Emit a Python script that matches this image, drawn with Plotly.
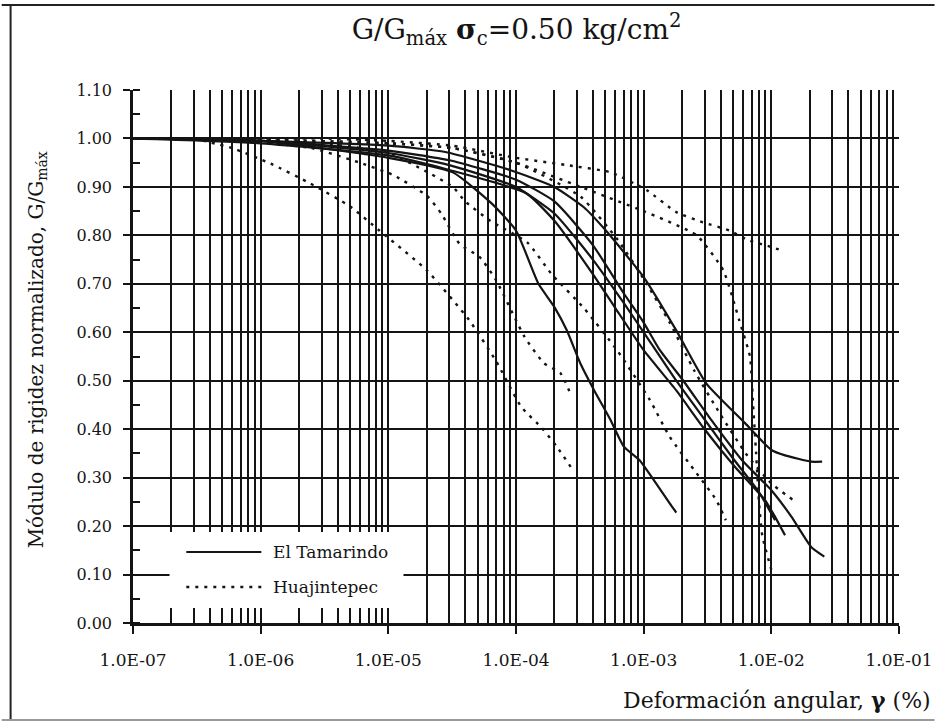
import plotly.graph_objects as go

# ---------------- data (strain in %, G/Gmax) ----------------
# El Tamarindo (solid)
t1_x = [1.0e-7, 1.0e-6, 1.0e-5, 3.2e-5, 6.5e-5, 1.0e-4, 1.5e-4, 2.0e-4, 2.5e-4, 3.2e-4, 4.1e-4, 5.5e-4, 7.0e-4, 9.3e-4, 1.15e-3, 1.6e-3, 1.8e-3]
t1_y = [1.00, 0.995, 0.96, 0.93, 0.865, 0.81, 0.70, 0.652, 0.604, 0.535, 0.48, 0.419, 0.364, 0.336, 0.302, 0.247, 0.228]

t2_x = [1.0e-7, 1.0e-6, 1.0e-5, 2.8e-5, 9.2e-5, 2.0e-4, 3.4e-4, 4.9e-4, 7.9e-4, 1.0e-3, 1.8e-3, 3.1e-3, 6.25e-3, 1.0e-2, 1.28e-2, 2.05e-2, 2.5e-2]
t2_y = [1.00, 0.995, 0.985, 0.972, 0.934, 0.90, 0.858, 0.814, 0.748, 0.714, 0.604, 0.494, 0.412, 0.357, 0.346, 0.333, 0.333]

t3_x = [1.0e-7, 1.0e-6, 1.0e-5, 3.0e-5, 1.0e-4, 2.0e-4, 4.0e-4, 7.0e-4, 1.0e-3, 1.34e-3, 2.03e-3, 3.26e-3, 5.9e-3, 1.0e-2, 1.44e-2, 2.05e-2, 2.6e-2]
t3_y = [1.00, 0.995, 0.975, 0.955, 0.915, 0.87, 0.78, 0.68, 0.62, 0.563, 0.501, 0.425, 0.336, 0.274, 0.219, 0.157, 0.137]

t4_x = [1.0e-7, 1.0e-6, 1.0e-5, 3.0e-5, 1.2e-4, 2.0e-4, 4.0e-4, 6.0e-4, 1.0e-3, 1.8e-3, 2.9e-3, 5.2e-3, 8.9e-3, 1.07e-2, 1.28e-2]
t4_y = [1.00, 0.99, 0.965, 0.935, 0.887, 0.83, 0.72, 0.65, 0.563, 0.48, 0.405, 0.322, 0.254, 0.219, 0.181]

t5_x = [1.0e-7, 1.0e-6, 1.0e-5, 3.0e-5, 1.0e-4, 2.0e-4, 4.0e-4, 7.0e-4, 1.0e-3, 1.8e-3, 3.0e-3, 5.0e-3, 8.0e-3, 1.07e-2]
t5_y = [1.00, 0.995, 0.97, 0.945, 0.90, 0.845, 0.75, 0.66, 0.60, 0.50, 0.42, 0.34, 0.27, 0.212]

# Huajintepec (dotted)
h1_x = [3.0e-7, 6.0e-7, 1.2e-6, 2.45e-6, 5.0e-6, 8.5e-6, 2.0e-5, 4.3e-5, 7.0e-5, 1.1e-4, 1.6e-4, 2.1e-4, 2.8e-4]
h1_y = [1.00, 0.98, 0.948, 0.907, 0.86, 0.81, 0.728, 0.625, 0.54, 0.446, 0.402, 0.363, 0.315]

h2_x = [5.0e-7, 2.5e-6, 6.0e-6, 1.1e-5, 2.0e-5, 2.6e-5, 3.6e-5, 5.2e-5, 7.0e-5, 1.17e-4, 1.66e-4, 2.24e-4, 2.7e-4]
h2_y = [1.00, 0.98, 0.95, 0.924, 0.882, 0.845, 0.783, 0.755, 0.707, 0.59, 0.536, 0.515, 0.47]

h3_x = [5.0e-7, 3.0e-6, 1.0e-5, 3.2e-5, 4.0e-5, 6.3e-5, 1.23e-4, 1.9e-4, 3.4e-4, 6.3e-4, 1.12e-3, 1.6e-3, 2.6e-3, 3.7e-3, 4.4e-3]
h3_y = [1.00, 0.99, 0.97, 0.90, 0.87, 0.83, 0.785, 0.72, 0.65, 0.56, 0.46, 0.384, 0.309, 0.254, 0.212]

h4_x = [5.0e-7, 1.0e-5, 3.2e-5, 1.0e-4, 3.2e-4, 1.0e-3, 2.6e-3, 4.2e-3, 5.6e-3, 6.8e-3, 7.2e-3, 7.6e-3, 8.0e-3, 8.5e-3, 1.0e-2]
h4_y = [1.00, 0.99, 0.98, 0.95, 0.90, 0.85, 0.80, 0.728, 0.625, 0.55, 0.45, 0.35, 0.25, 0.18, 0.11]

h5_x = [3.0e-7, 3.0e-6, 1.0e-5, 3.2e-5, 1.0e-4, 2.5e-4, 5.5e-4, 1.06e-3, 1.8e-3, 2.9e-3, 4.7e-3, 6.6e-3, 1.0e-2, 1.2e-2]
h5_y = [1.00, 1.00, 0.995, 0.985, 0.96, 0.945, 0.93, 0.893, 0.848, 0.827, 0.81, 0.79, 0.776, 0.769]

h6_x = [5.0e-7, 1.0e-5, 3.2e-5, 1.0e-4, 3.2e-4, 6.3e-4, 1.0e-3, 1.6e-3, 2.5e-3, 4.0e-3, 6.3e-3, 1.0e-2, 1.48e-2]
h6_y = [1.00, 0.99, 0.98, 0.95, 0.88, 0.79, 0.71, 0.62, 0.52, 0.43, 0.35, 0.288, 0.254]

tamarindo = [(t1_x, t1_y), (t2_x, t2_y), (t3_x, t3_y), (t4_x, t4_y), (t5_x, t5_y)]
huajintepec = [(h1_x, h1_y), (h2_x, h2_y), (h3_x, h3_y), (h4_x, h4_y), (h5_x, h5_y), (h6_x, h6_y)]

decade_vals = [1e-7, 1e-6, 1e-5, 1e-4, 1e-3, 1e-2, 1e-1]
decade_text = ["1.0E-07", "1.0E-06", "1.0E-05", "1.0E-04", "1.0E-03", "1.0E-02", "1.0E-01"]
legend_names = ["El Tamarindo", "Huajintepec"]

# ---------------- figure ----------------
INK = "#141414"
SERIF = "DejaVu Serif"
fig = go.Figure()

for x, y in tamarindo:
    fig.add_trace(go.Scatter(x=x, y=y, mode="lines", showlegend=False,
                             line=dict(color=INK, width=2.2, shape="spline", smoothing=0.5),
                             name=legend_names[0]))
for x, y in huajintepec:
    fig.add_trace(go.Scatter(x=x, y=y, mode="lines", showlegend=False,
                             line=dict(color=INK, width=2.4, dash="3px,6px", shape="spline", smoothing=0.5),
                             name=legend_names[1]))

minor_vals = [k * d for d in decade_vals[:-1] for k in range(2, 10)]

fig.update_layout(
    width=945, height=723,
    margin=dict(l=133, r=36, t=90, b=100),
    paper_bgcolor="white", plot_bgcolor="white",
    showlegend=False,
    title=dict(text="G/G<sub>máx</sub> <b>σ</b><sub>c</sub>=0.50 kg/cm<sup>2</sup>",
               x=0.5466, y=0.96, xanchor="center", yanchor="middle",
               font=dict(family=SERIF, size=28, color=INK)),
    xaxis=dict(type="log", range=[-7, -1],
               tickmode="array", tickvals=decade_vals, ticktext=decade_text,
               ticks="outside", ticklen=8, tickwidth=2, tickcolor=INK,
               ticklabelstandoff=12,
               showgrid=True, gridcolor=INK, gridwidth=2,
               minor=dict(tickmode="array", tickvals=minor_vals, showgrid=True,
                          gridcolor=INK, gridwidth=2, ticks=""),
               showline=True, linecolor=INK, linewidth=2.5, zeroline=False,
               tickfont=dict(family=SERIF, size=17, color=INK)),
    yaxis=dict(range=[0, 1.1], tick0=0, dtick=0.1, tickformat=".2f",
               ticks="outside", ticklen=7, tickwidth=2, tickcolor=INK,
               ticklabelstandoff=8,
               showgrid=True, gridcolor=INK, gridwidth=2,
               minor=dict(tick0=0, dtick=0.05, ticks="inside", ticklen=7,
                          tickwidth=2, tickcolor=INK, showgrid=False),
               showline=True, linecolor=INK, linewidth=2.5, zeroline=False,
               tickfont=dict(family=SERIF, size=16, color=INK)),
)

# axis titles
fig.add_annotation(text="Módulo de rigidez normalizado, G/G<sub>máx</sub>",
                   xref="paper", yref="paper", x=-0.125, y=0.512,
                   xanchor="center", yanchor="middle", textangle=-90, showarrow=False,
                   font=dict(family=SERIF, size=20, color=INK))
fig.add_annotation(text="Deformación angular, <b>γ</b> (%)",
                   xref="paper", yref="paper", x=1.0438, y=-0.1445,
                   xanchor="right", yanchor="middle", showarrow=False,
                   font=dict(family=SERIF, size=22, color=INK))

# pixel -> paper helpers (plot area: x 133..909, y 90..623)
def px(X):
    return (X - 133) / 776.0

def py(Y):
    return (623 - Y) / 533.0

# legend box (white, hides grid)
fig.add_shape(type="rect", xref="paper", yref="paper",
              x0=px(170), x1=px(407), y0=py(608), y1=py(532),
              fillcolor="white", line=dict(width=0), layer="above")
fig.add_shape(type="line", xref="paper", yref="paper",
              x0=px(187), x1=px(263), y0=py(552), y1=py(552),
              line=dict(color=INK, width=2.2), layer="above")
fig.add_shape(type="line", xref="paper", yref="paper",
              x0=px(187), x1=px(263), y0=py(587), y1=py(587),
              line=dict(color=INK, width=2.4, dash="3px,6px"), layer="above")
fig.add_annotation(text=legend_names[0], xref="paper", yref="paper",
                   x=px(273), y=py(552), xanchor="left", yanchor="middle", showarrow=False,
                   font=dict(family=SERIF, size=17, color=INK))
fig.add_annotation(text=legend_names[1], xref="paper", yref="paper",
                   x=px(273), y=py(587), xanchor="left", yanchor="middle", showarrow=False,
                   font=dict(family=SERIF, size=17, color=INK))

# outer chart frame
fig.add_shape(type="line", xref="paper", yref="paper", x0=px(0), x1=px(945), y0=py(5), y1=py(5),
              line=dict(color="#222", width=2))
fig.add_shape(type="line", xref="paper", yref="paper", x0=px(9), x1=px(9), y0=py(5), y1=py(720),
              line=dict(color="#222", width=2))
fig.add_shape(type="line", xref="paper", yref="paper", x0=px(0), x1=px(945), y0=py(720), y1=py(720),
              line=dict(color="#999", width=2))

fig.write_html("out.html")
